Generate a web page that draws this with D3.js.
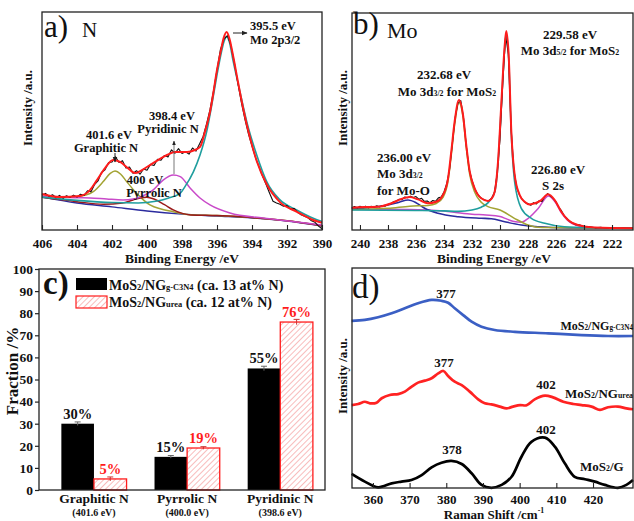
<!DOCTYPE html>
<html>
<head>
<meta charset="utf-8">
<script src="https://cdn.jsdelivr.net/npm/d3@7"></script>
<style>
body { margin: 0; background: #fff; }
text { font-family: "Liberation Serif", "Times New Roman", serif; font-weight: bold; fill: #111; }
.thin { font-weight: normal; }
</style>
</head>
<body>
<svg width="634" height="521"></svg>
<script>
// ---- a) N 1s spectrum: [binding energy eV, intensity a.u.]
var nTicks = [406, 404, 402, 400, 398, 396, 394, 392, 390];
var nMinor = [405, 403, 401, 399, 397, 395, 393, 391];
var nRaw = [[406.0,16.0],[405.8,16.8],[405.6,15.4],[405.4,16.2],[405.2,14.8],[405.0,15.9],[404.8,14.6],[404.6,15.7],[404.4,14.9],[404.2,16.0],[404.0,15.1],[403.8,16.4],[403.6,15.8],[403.4,18.0],[403.2,17.6],[403.0,20.8],[402.8,22.5],[402.6,26.4],[402.4,27.6],[402.2,30.9],[402.0,31.2],[401.8,33.6],[401.6,31.0],[401.4,31.8],[401.2,28.4],[401.0,28.9],[400.8,26.0],[400.6,27.2],[400.4,25.6],[400.2,28.0],[400.0,27.4],[399.8,30.1],[399.6,29.6],[399.4,32.4],[399.2,32.0],[399.0,34.2],[398.8,33.5],[398.6,36.8],[398.4,35.2],[398.2,37.3],[398.0,35.1],[397.8,35.9],[397.6,34.8],[397.4,37.6],[397.2,36.2],[397.0,39.5],[396.8,42.8],[396.6,48.6],[396.4,55.2],[396.2,63.8],[396.0,73.5],[395.8,83.0],[395.6,87.6],[395.4,89.2],[395.2,84.5],[395.0,76.4],[394.8,67.0],[394.6,58.2],[394.4,50.6],[394.2,44.0],[394.0,38.5],[393.8,33.2],[393.6,29.0],[393.4,24.8],[393.2,21.0],[393.0,17.0],[392.8,13.2],[392.6,12.4],[392.4,11.8],[392.2,10.9],[392.0,11.2],[391.8,9.6],[391.6,9.9],[391.4,8.2],[391.2,7.0],[391.0,6.3],[390.8,5.6],[390.6,4.2],[390.4,3.5],[390.2,1.8],[390.0,0.6]];
var nEnvelope = [[406,16.5],[405,15.1],[403.83,15.6],[403.26,18.3],[402.86,22.9],[402.4,28.4],[401.94,32.1],[401.54,31.2],[401.09,28.4],[400.69,26.1],[400.29,27.5],[399.83,29.8],[399.37,32.1],[398.86,34.4],[398.4,35.8],[397.71,35.8],[397.26,36.7],[396.97,38.1],[396.69,45.0],[396.4,54.1],[396.21,62.8],[396.02,72.5],[395.77,82.6],[395.62,88.0],[395.45,90.8],[395.28,87.5],[395.09,80.3],[394.8,67.9],[394.51,56.0],[394.11,42.2],[393.71,31.2],[393.14,20.6],[392.4,12.8],[391.43,8.3],[390.51,4.6],[390,3.3]];
var nMo2p = [[406,15.1],[404,13.6],[402,12.6],[400.5,12.4],[399.5,13.2],[398.8,14.6],[398.11,16.8],[397.83,19.9],[397.35,26.7],[396.97,34.4],[396.59,45.1],[396.3,57.3],[396.02,70.3],[395.75,81.5],[395.6,86.5],[395.45,88.7],[395.3,86.5],[395.07,77.2],[394.69,63.4],[394.3,49.7],[393.73,34.4],[393.16,22.2],[392.4,13.8],[391.45,9.2],[390.5,5.4],[390,3.9]];
var nPyridinic = [[406,15.6],[405,15.2],[404,14.8],[403.26,14.7],[402.3,14.2],[401.37,13.8],[400.8,14.2],[400.4,15.1],[399.66,18.3],[399.08,22.9],[398.5,25.2],[398.1,24.5],[397.54,19.3],[396.97,14.7],[396.4,11.5],[395.26,7.8],[393.37,5.5],[391.43,3.7],[390,2.3]];
var nPyrrolic = [[406,15.0],[404,13.0],[402.5,11.8],[401.4,12.4],[400.8,13.8],[400.3,14.8],[400.02,15.0],[399.6,14.2],[399.0,11.6],[398.5,9.2],[397.5,6.9],[396,6.6],[394,5.7],[392,4.2],[390,1.9]];
var nGraphitic = [[406,15.4],[405,15.2],[404,15.3],[403.5,16.0],[403.07,17.6],[402.5,22.2],[402.1,26.0],[401.83,27.1],[401.5,25.6],[401.16,22.2],[400.59,16.8],[399.83,11.5],[399.2,9.6],[398.5,8.4],[397.54,7.0],[396,6.6],[394,5.7],[392,4.3],[390,2.0]];
var nBaseline = [[406,15.1],[404,12.4],[402,10.6],[400,8.7],[398,7.3],[396,6.4],[394,5.5],[392,4.1],[390,1.8]];

// ---- b) Mo 3d spectrum
var moTicks = [240, 238, 236, 234, 232, 230, 228, 226, 224, 222];
var moMinor = [239, 237, 235, 233, 231, 229, 227, 225, 223, 221];
var moRaw = [[240.6,10.0],[240.4,10.8],[240.2,10.2],[240.0,10.9],[239.8,10.4],[239.6,11.0],[239.4,10.3],[239.2,10.9],[239.0,10.5],[238.8,11.2],[238.6,10.6],[238.4,11.3],[238.2,11.0],[238.0,11.8],[237.8,12.1],[237.6,13.0],[237.4,13.4],[237.2,14.2],[237.0,14.0],[236.8,15.2],[236.6,14.9],[236.4,15.6],[236.2,15.0],[236.0,15.4],[235.8,14.2],[235.6,14.6],[235.4,13.2],[235.2,13.4],[235.0,12.6],[234.8,13.6],[234.6,13.2],[234.4,14.8],[234.2,15.2],[234.0,17.5],[233.8,21.5],[233.6,28.0],[233.4,40.0],[233.2,52.0],[233.0,58.5],[232.8,59.6],[232.6,51.5],[232.4,38.5],[232.2,28.0],[232.0,23.0],[231.8,19.0],[231.6,16.5],[231.4,15.0],[231.2,14.2],[231.0,13.6],[230.8,13.5],[230.6,14.6],[230.4,17.0],[230.2,26.0],[230.0,42.0],[229.8,68.0],[229.6,89.5],[229.4,81.0],[229.2,46.0],[229.0,27.5],[228.8,19.5],[228.6,16.0],[228.4,14.0],[228.2,12.6],[228.0,12.2],[227.8,11.4],[227.6,12.6],[227.4,12.0],[227.2,13.5],[227.0,13.2],[226.8,15.4],[226.6,16.8],[226.4,15.6],[226.2,14.6],[226.0,13.0],[225.8,10.5],[225.6,8.8],[225.4,6.5],[225.2,5.2],[225.0,3.8],[224.8,3.2],[224.6,2.4],[224.4,2.5],[224.0,1.6],[223.6,1.5],[223.2,1.0],[222.8,1.2],[222.4,0.8],[222.0,1.0],[221.6,0.7],[221.2,0.9],[220.8,0.8],[220.5,0.8]];
var moEnvelope = [[240.57,10.3],[240.14,10.5],[239.4,10.6],[238.71,10.7],[237.76,12.3],[237.05,14.3],[236.45,15.2],[235.86,14.1],[235.14,12.3],[234.55,13.0],[234.07,16.1],[233.71,23.8],[233.48,36.1],[233.24,49.9],[232.93,59.9],[232.64,53.0],[232.41,39.2],[232.16,26.9],[231.81,19.2],[231.34,14.6],[230.86,13.4],[230.6,14.5],[230.38,17.6],[230.14,31.5],[229.91,57.6],[229.66,85.3],[229.55,91.7],[229.38,80.6],[229.19,45.3],[228.95,25.3],[228.59,16.1],[228.24,13.0],[227.9,11.8],[227.5,12.3],[227.05,13.8],[226.57,16.5],[226.09,13.8],[225.62,8.4],[225.14,4.6],[224.43,2.3],[223.24,1.1],[220.5,0.8]];
var mo3d32 = [[240.57,9.5],[238,10.0],[236.45,11.0],[235.14,11.3],[234.55,12.2],[234.07,15.0],[233.71,22.5],[233.48,34.5],[233.24,48.5],[232.93,58.8],[232.64,52.0],[232.41,38.0],[232.16,25.5],[231.81,17.5],[231.34,12.8],[230.86,10.8],[230,9.2],[229,5.5],[228,2.3],[227,1.1],[220.5,0.8]];
var mo3d52 = [[240.57,9.2],[236,9.0],[234,8.8],[233,8.6],[232,9.2],[231.34,10.5],[230.86,12.5],[230.38,17.5],[230.14,30.5],[229.91,56.5],[229.66,84.0],[229.55,90.3],[229.38,79.0],[229.19,44.0],[228.95,22.0],[228.48,10.0],[227.76,5.4],[226.8,3.1],[225.4,1.5],[223,1.0],[220.5,0.8]];
var moS2s = [[240.57,9.6],[236.5,9.5],[234,8.8],[233,8.0],[232,7.3],[231,6.9],[230,6.2],[229.5,5.0],[229,3.9],[228.5,3.6],[227.98,5.4],[227.26,10.0],[226.55,15.7],[226.07,13.0],[225.59,7.7],[224.88,3.1],[223.69,1.2],[220.5,0.8]];
var moOxide = [[240.57,9.6],[239.4,10.3],[238,11.5],[237.2,12.8],[236.57,13.8],[236.0,12.6],[235.38,10.0],[234.43,7.7],[233.0,6.1],[231.34,5.4],[230.62,5.2],[229.66,3.8],[228.48,2.3],[227.29,1.5],[225,1.0],[220.5,0.8]];

// ---- c) N species fractions (%)
var bonds = ["Graphitic N", "Pyrrolic N", "Pyridinic N"];
var bondEnergies = ["(401.6 eV)", "(400.0 eV)", "(398.6 eV)"];
var fracGC3N4 = [30, 15, 55];
var fracUrea = [5, 19, 76];
var errGC3N4 = [0.8, 0.6, 1.0];
var errUrea = [0.9, 0.6, 1.2];
var fracTicks = [0, 10, 20, 30, 40, 50, 60, 70, 80, 90, 100];

// ---- d) Raman spectra: [shift cm-1, intensity]
var ramanTicks = [360, 370, 380, 390, 400, 410, 420];
var ramanMinor = [355, 365, 375, 385, 395, 405, 415, 425];
var ramanG = [[354.2,6.4],[357.8,2.9],[361.4,0.3],[365.1,2.1],[367.8,2.9],[370.5,3.6],[373.3,5.9],[376.0,9.4],[378.7,11.5],[381.4,12.3],[384.2,10.9],[386.9,6.7],[389.6,1.4],[392.3,0.1],[395.1,1.4],[397.8,5.1],[400.5,14.2],[403.2,21.0],[406.9,22.9],[409.6,18.8],[412.3,11.2],[415.0,5.1],[417.8,4.0],[420.5,2.9],[423.2,1.4],[426.8,0.1],[429.1,1.4],[430.9,3.6]];
var ramanUrea = [[354.2,37.7],[356.0,38.2],[357.8,39.2],[359.2,38.5],[361.0,38.8],[362.4,40.8],[364.6,42.3],[366.9,42.7],[368.7,43.8],[370.5,46.0],[372.3,47.9],[374.2,48.8],[376.0,49.9],[377.8,52.1],[379.2,53.2],[380.5,50.9],[382.3,48.3],[384.2,46.8],[386.4,43.8],[388.7,40.3],[390.5,38.5],[392.3,38.0],[394.6,37.0],[396.4,36.2],[398.2,37.0],[400.1,37.7],[401.9,37.6],[404.1,40.3],[406.9,42.0],[409.1,41.2],[411.9,39.2],[414.6,38.2],[416.9,37.7],[419.6,37.0],[421.9,35.5],[424.1,36.7],[426.8,37.0],[429.1,36.2],[430.9,35.8]];
var ramanGC3N4 = [[354.2,76.0],[357.8,76.4],[361.4,77.6],[365.1,79.4],[368.7,81.7],[372.3,84.0],[376.0,85.5],[378.7,85.1],[380.5,84.2],[382.3,81.7],[384.6,78.6],[386.9,75.6],[389.6,73.3],[393.2,71.8],[398.7,71.0],[407.8,70.3],[416.9,69.5],[424.1,69.1],[430.9,69.1]];

var svg = d3.select("svg");
var RED = "#ff1c1c";

var xA = d3.scaleLinear().domain([406, 390]).range([42, 322]),
    yA = d3.scaleLinear().domain([0, 100]).range([230, 12]);
var xB = d3.scaleLinear().domain([240.57, 220.5]).range([352, 633]),
    yB = d3.scaleLinear().domain([0, 100]).range([230, 13]);
var xC = d3.scaleLinear().domain([0.41, 3.48]).range([39, 325]),
    yC = d3.scaleLinear().domain([0, 100]).range([490, 269]);
var xD = d3.scaleLinear().domain([354.3, 430.9]).range([352, 633]),
    yD = d3.scaleLinear().domain([0, 100]).range([488, 268]);

var defs = svg.append("defs");
defs.append("marker").attr("id", "arrow")
    .attr("viewBox", "0 0 10 10").attr("refX", 9).attr("refY", 5)
    .attr("markerWidth", 6).attr("markerHeight", 6).attr("orient", "auto")
  .append("path").attr("d", "M0,1L10,5L0,9z").attr("fill", "#222");
var hatch = defs.append("pattern").attr("id", "hatch")
    .attr("patternUnits", "userSpaceOnUse").attr("width", 4).attr("height", 4)
    .attr("patternTransform", "rotate(45)");
hatch.append("rect").attr("width", 4).attr("height", 4).attr("fill", "#fff");
hatch.append("line").attr("x1", 0).attr("y1", 0).attr("x2", 0).attr("y2", 4)
    .attr("stroke", "#f27a7a").attr("stroke-width", 1);

function frame(x, y) {
  var r = x.range(), h = y.range();
  svg.append("rect")
      .attr("x", Math.min(r[0], r[1])).attr("y", Math.min(h[0], h[1]))
      .attr("width", Math.abs(r[1] - r[0])).attr("height", Math.abs(h[1] - h[0]))
      .attr("fill", "none").attr("stroke", "#222").attr("stroke-width", 1.3);
}

function inwardAxis(x, y0, major, minor, pad) {
  var g = svg.append("g").attr("transform", "translate(0," + y0 + ")");
  g.call(d3.axisBottom(x).tickValues(minor).tickSize(-3).tickFormat(""));
  g.call(d3.axisBottom(x).tickValues(major).tickSize(-5).tickPadding(pad));
  g.selectAll(".domain").remove();
  g.selectAll("line").attr("stroke", "#222").attr("stroke-width", 1.1);
  g.selectAll("text").attr("font-size", 13);
}

function curve(data, x, y, color, width, smooth) {
  var line = d3.line().x(function(d) { return x(d[0]); }).y(function(d) { return y(d[1]); });
  if (smooth) line.curve(d3.curveMonotoneX);
  svg.append("path").datum(data)
      .attr("d", line).attr("fill", "none")
      .attr("stroke", color).attr("stroke-width", width)
      .attr("stroke-linejoin", "round");
}

function label(x, y, str, size, anchor, cls) {
  return svg.append("text").attr("x", x).attr("y", y)
      .attr("font-size", size).attr("text-anchor", anchor || "start")
      .attr("class", cls || null).text(str);
}

function vlabel(x, y, str, size) {
  svg.append("text").attr("transform", "translate(" + x + "," + y + ") rotate(-90)")
      .attr("font-size", size).attr("text-anchor", "middle").text(str);
}

// text with small parts: parts = [[text, "sub"|"sup"|undefined], ...]
function richLabel(x, y, parts, size, anchor, color) {
  var t = svg.append("text").attr("x", x).attr("y", y).attr("font-size", size)
      .attr("text-anchor", anchor || "start");
  if (color) t.style("fill", color);
  parts.forEach(function(p) {
    var s = t.append("tspan").text(p[0]);
    if (p[1] === "sub") s.attr("font-size", size * 0.6);
    if (p[1] === "sup") s.attr("font-size", size * 0.6).attr("dy", -6);
  });
  return t;
}

// ================= panel a =================
curve(nBaseline, xA, yA, "#2b2b9e", 1.4, true);
curve(nGraphitic, xA, yA, "#a3a333", 1.5, true);
curve(nPyrrolic, xA, yA, "#9a1b1b", 1.5, true);
curve(nPyridinic, xA, yA, "#c94ac9", 1.5, true);
curve(nMo2p, xA, yA, "#1f9e9e", 1.6, true);
curve(nRaw, xA, yA, "#111", 1.1, false);
curve(nEnvelope, xA, yA, RED, 2, true);
frame(xA, yA);
inwardAxis(xA, 230, nTicks, nMinor, 9);

label(44, 37, "a)", 31, "start", "thin");
label(82, 37, "N", 21, "start", "thin");
label(250, 30, "395.5 eV", 12.5);
label(250, 44, "Mo 2p3/2", 12.5);
label(172, 120, "398.4 eV", 12.5, "middle");
label(168, 133, "Pyridinic N", 12.5, "middle");
label(109, 139, "401.6 eV", 12.5, "middle");
label(106, 152, "Graphitic N", 12.5, "middle");
label(145, 184, "400 eV", 12.5, "middle");
label(154, 197, "Pyrrolic N", 12.5, "middle");
svg.append("line").attr("x1", 233).attr("y1", 33).attr("x2", 247).attr("y2", 33)
    .attr("stroke", "#222").attr("stroke-width", 1).attr("marker-end", "url(#arrow)");
svg.append("line").attr("x1", 174).attr("y1", 174).attr("x2", 174).attr("y2", 141)
    .attr("stroke", "#555").attr("stroke-width", 0.8).attr("marker-end", "url(#arrow)");
svg.append("line").attr("x1", 115).attr("y1", 153).attr("x2", 115).attr("y2", 162)
    .attr("stroke", "#222").attr("stroke-width", 1).attr("marker-end", "url(#arrow)");
vlabel(32, 108, "Intensity /a.u.", 13);
label(182, 263, "Binding Energy /eV", 13.5, "middle");

// ================= panel b =================
curve(moS2s, xB, yB, "#c94ac9", 1.5, true);
curve(moOxide, xB, yB, "#2b2b9e", 1.6, true);
curve(mo3d32, xB, yB, "#a3a333", 1.5, true);
curve(mo3d52, xB, yB, "#1f9e9e", 1.6, true);
curve(moRaw, xB, yB, "#111", 1.1, false);
curve(moEnvelope, xB, yB, RED, 2, true);
frame(xB, yB);
inwardAxis(xB, 230, moTicks, moMinor, 9);

label(353, 34, "b)", 31, "start", "thin");
label(387, 38, "Mo", 22, "start", "thin");
label(570, 39, "229.58 eV", 13, "middle");
richLabel(570, 55, [["Mo 3d"], ["5/2", "sub"], [" for MoS"], ["2", "sub"]], 13, "middle");
label(444, 79, "232.68 eV", 13, "middle");
richLabel(447, 96, [["Mo 3d"], ["3/2", "sub"], [" for MoS"], ["2", "sub"]], 13, "middle");
label(377, 162, "236.00 eV", 13);
richLabel(377, 178, [["Mo 3d"], ["3/2", "sub"]], 13);
label(377, 195, "for Mo-O", 13);
label(558, 174, "226.80 eV", 13, "middle");
label(553, 190, "S 2s", 13, "middle");
vlabel(347, 108, "Intensity /a.u.", 13);
label(494, 263, "Binding Energy /eV", 13.5, "middle");

// ================= panel c =================
var barW = xC(1.35) - xC(1);
var gc = svg.append("g");
gc.selectAll(".barG").data(fracGC3N4).join("rect").attr("class", "barG")
    .attr("x", function(d, i) { return xC(i + 1) - barW; })
    .attr("y", function(d) { return yC(d); })
    .attr("width", barW).attr("height", function(d) { return yC(0) - yC(d); })
    .attr("fill", "#000");
gc.selectAll(".barU").data(fracUrea).join("rect").attr("class", "barU")
    .attr("x", function(d, i) { return xC(i + 1); })
    .attr("y", function(d) { return yC(d); })
    .attr("width", barW).attr("height", function(d) { return yC(0) - yC(d); })
    .attr("fill", "url(#hatch)").attr("stroke", RED).attr("stroke-width", 1.3);

function errBars(vals, errs, off, color) {
  vals.forEach(function(v, i) {
    var cx = xC(i + 1) + off;
    gc.append("line").attr("x1", cx).attr("x2", cx)
        .attr("y1", yC(v - errs[i])).attr("y2", yC(v + errs[i]))
        .attr("stroke", color).attr("stroke-width", 1);
    gc.append("line").attr("x1", cx - 3).attr("x2", cx + 3)
        .attr("y1", yC(v + errs[i])).attr("y2", yC(v + errs[i]))
        .attr("stroke", color).attr("stroke-width", 1);
  });
}
errBars(fracGC3N4, errGC3N4, -barW / 2, "#666");
errBars(fracUrea, errUrea, barW / 2, "#c33");

gc.selectAll(".valG").data(fracGC3N4).join("text").attr("class", "valG")
    .attr("x", function(d, i) { return xC(i + 1) - barW / 2; })
    .attr("y", function(d) { return yC(d) - 5; })
    .attr("text-anchor", "middle").attr("font-size", 14.5)
    .text(function(d) { return d + "%"; });
gc.selectAll(".valU").data(fracUrea).join("text").attr("class", "valU")
    .attr("x", function(d, i) { return xC(i + 1) + barW / 2; })
    .attr("y", function(d) { return yC(d) - 5; })
    .attr("text-anchor", "middle").attr("font-size", 14.5)
    .style("fill", RED)
    .text(function(d) { return d + "%"; });

frame(xC, yC);
var ayC = svg.append("g").attr("transform", "translate(" + xC.range()[0] + ",0)")
    .call(d3.axisLeft(yC).tickValues(fracTicks).tickSize(4).tickPadding(2));
ayC.select(".domain").remove();
ayC.selectAll("line").attr("stroke", "#222").attr("stroke-width", 1.2);
ayC.selectAll("text").attr("font-size", 13.5);

gc.selectAll(".cat").data(bonds).join("text").attr("class", "cat")
    .attr("x", function(d, i) { return xC(i + 1); }).attr("y", 503)
    .attr("text-anchor", "middle").attr("font-size", 13.5).text(function(d) { return d; });
gc.selectAll(".catE").data(bondEnergies).join("text").attr("class", "catE")
    .attr("x", function(d, i) { return xC(i + 1); }).attr("y", 516)
    .attr("text-anchor", "middle").attr("font-size", 10).text(function(d) { return d; });

label(43, 294, "c)", 33, "start");
svg.append("rect").attr("x", 76).attr("y", 278).attr("width", 31).attr("height", 12).attr("fill", "#000");
svg.append("rect").attr("x", 76).attr("y", 296).attr("width", 31).attr("height", 12)
    .attr("fill", "url(#hatch)").attr("stroke", RED).attr("stroke-width", 1.2);
richLabel(109, 290, [["MoS"], ["2", "sub"], ["/NG"], ["g-C3N4", "sub"], [" (ca. 13 at% N)"]], 14);
richLabel(109, 307, [["MoS"], ["2", "sub"], ["/NG"], ["urea", "sub"], [" (ca. 12 at% N)"]], 14);
vlabel(18, 371, "Fraction /%", 17);

// ================= panel d =================
function smoothLine(data, color) {
  var line = d3.line().x(function(d) { return xD(d[0]); }).y(function(d) { return yD(d[1]); })
      .curve(d3.curveCatmullRom);
  svg.append("path").datum(data).attr("d", line).attr("fill", "none")
      .attr("stroke", color).attr("stroke-width", 2.7).attr("stroke-linejoin", "round");
}
smoothLine(ramanGC3N4, "#3b5fc4");
smoothLine(ramanUrea, "#ff2222");
smoothLine(ramanG, "#000");
frame(xD, yD);
inwardAxis(xD, 488, ramanTicks, ramanMinor, 7);

label(352, 298, "d)", 33, "start", "thin");
label(446, 298, "377", 13, "middle");
richLabel(633, 330, [["MoS"], ["2", "sub"], ["/NG"], ["g-C3N4", "sub"]], 12, "end");
label(444, 367, "377", 13, "middle");
label(546, 389, "402", 13, "middle");
richLabel(633, 398, [["MoS"], ["2", "sub"], ["/NG"], ["urea", "sub"]], 13, "end");
label(546, 434, "402", 13, "middle");
label(452, 454, "378", 13, "middle");
richLabel(580, 471, [["MoS"], ["2", "sub"], ["/G"]], 13);
vlabel(347, 376, "Intensity /a.u.", 13);
richLabel(494, 519, [["Raman Shift /cm"], ["-1", "sup"]], 13, "middle");
</script>
</body>
</html>
